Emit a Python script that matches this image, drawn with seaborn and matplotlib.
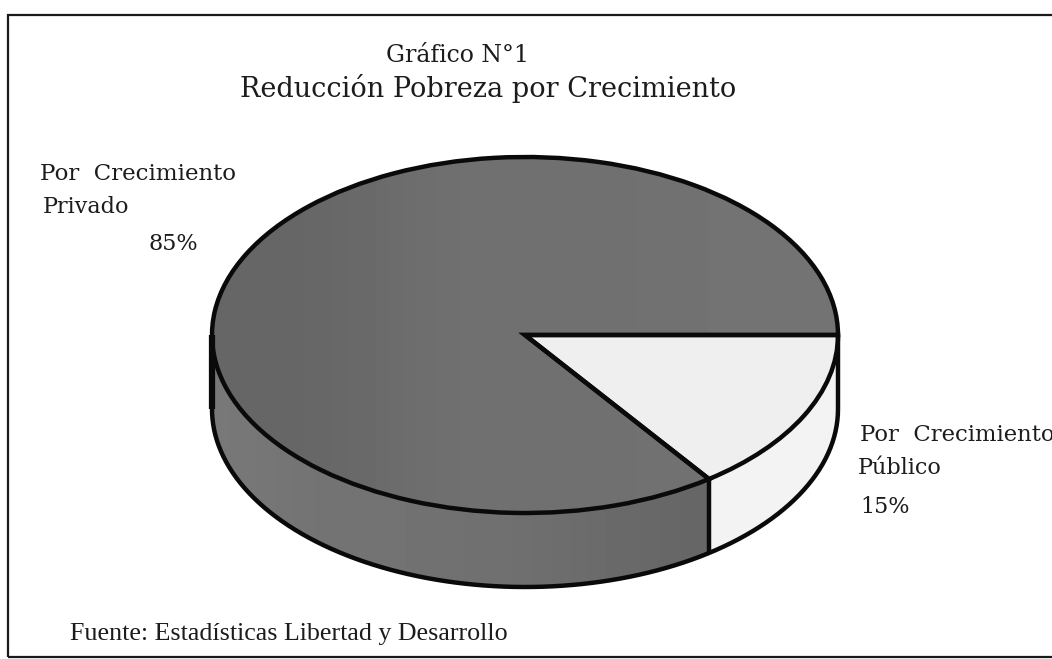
import numpy as np
import matplotlib
matplotlib.use("Agg")
import matplotlib.pyplot as plt
from matplotlib.patches import Rectangle
import seaborn as sns

# --- data ---
categories = ["Por Crecimiento Público", "Por Crecimiento Privado"]
shares = [15, 85]
title_lines = ["Gráfico N°1", "Reducción Pobreza por Crecimiento"]
source = "Fuente: Estadísticas Libertad y Desarrollo"

sns.set_theme(style="white")
plt.rcParams["font.family"] = ["DejaVu Serif"]

W, H = 1052, 659
CX, CY, RX, RY, DEPTH = 525, 335, 313, 178, 74
TXT = "#1c1c1c"

fig = plt.figure(figsize=(W / 100, H / 100), dpi=100, facecolor="white")
ax = fig.add_axes([0, 0, 1, 1])

wedges, _ = ax.pie(shares, startangle=0, counterclock=False, radius=1,
                   colors=["#efefef", "#6c6c6c"],
                   wedgeprops=dict(edgecolor="#0a0a0a", linewidth=3.2, joinstyle="miter"))
d = DEPTH / RY


def side(a0, a1, color, z):
    t = np.radians(np.linspace(a0, a1, 200))
    x, y = np.cos(t), -np.sin(t)
    return ax.fill_between(x, y, y - d, color=color, lw=0, zorder=z)


split = 360 * shares[0] / sum(shares)
side_dark = side(split, 180, "#6f6f6f", 0.5)
side_light = side(0, split, "#f3f3f3", 0.5)

shade_top = np.array([[0.40, 0.40, 0.41, 0.43, 0.44, 0.44, 0.44, 0.44, 0.45, 0.45, 0.45]])
shade_side = np.array([[0.47, 0.46, 0.45, 0.45, 0.45, 0.44, 0.44, 0.43, 0.42, 0.41, 0.40]])
im1 = ax.imshow(shade_top, cmap="gray", vmin=0, vmax=1, aspect="auto",
                extent=(-1, 1, -1, 1), zorder=1.5, interpolation="bicubic")
im1.set_clip_path(wedges[1])
im2 = ax.imshow(shade_side, cmap="gray", vmin=0, vmax=1, aspect="auto",
                extent=(-1, np.cos(np.radians(split)), -1 - d, 0), zorder=0.6, interpolation="bicubic")
im2.set_clip_path(side_dark.get_paths()[0], side_dark.get_transform())
wedges[1].set_facecolor("none")
for w in wedges:
    w.set_zorder(2)
outline = dict(color="#0a0a0a", lw=3.2, zorder=3, solid_capstyle="butt")

t = np.radians(np.linspace(0, 180, 300))
ax.plot(np.cos(t), -np.sin(t) - d, **outline)
ax.plot([1, 1], [0, -d], **outline)
ax.plot([-1, -1], [0, -d], color="#0a0a0a", lw=4.5, zorder=3, solid_capstyle="butt")
xs, ys = np.cos(np.radians(split)), -np.sin(np.radians(split))
ax.plot([xs, xs], [ys, ys - d], **outline)

ax.set_xlim((0 - CX) / RX, (W - CX) / RX)
ax.set_ylim((CY - H) / RY, (CY - 0) / RY)
ax.set_aspect("auto")
ax.axis("off")

fig.add_artist(Rectangle((8 / W, 1 - 657 / H), 1.1, (657 - 15) / H, transform=fig.transFigure,
                         fill=False, edgecolor="#1a1a1a", linewidth=1.6))


def label(px, py, s, size, ha="left", **kw):
    fig.text(px / W, 1 - py / H, s, fontsize=size, ha=ha, va="baseline", color=TXT, **kw)


label(457, 62, title_lines[0], 17.0, "center")
label(488, 97, title_lines[1], 19.5, "center")
label(40, 180, "Por  Crecimiento", 16.5)
label(43, 213, "Privado", 16.0)
label(149, 250, f"{shares[1]}%", 16.0)
label(860, 441, "Por  Crecimiento", 16.4)
label(858, 474, "Público", 16.0)
label(860, 513, f"{shares[0]}%", 16.0)
label(70, 640, source, 18.7, family="Liberation Serif")

fig.savefig("out.png", dpi=100, facecolor="white")
